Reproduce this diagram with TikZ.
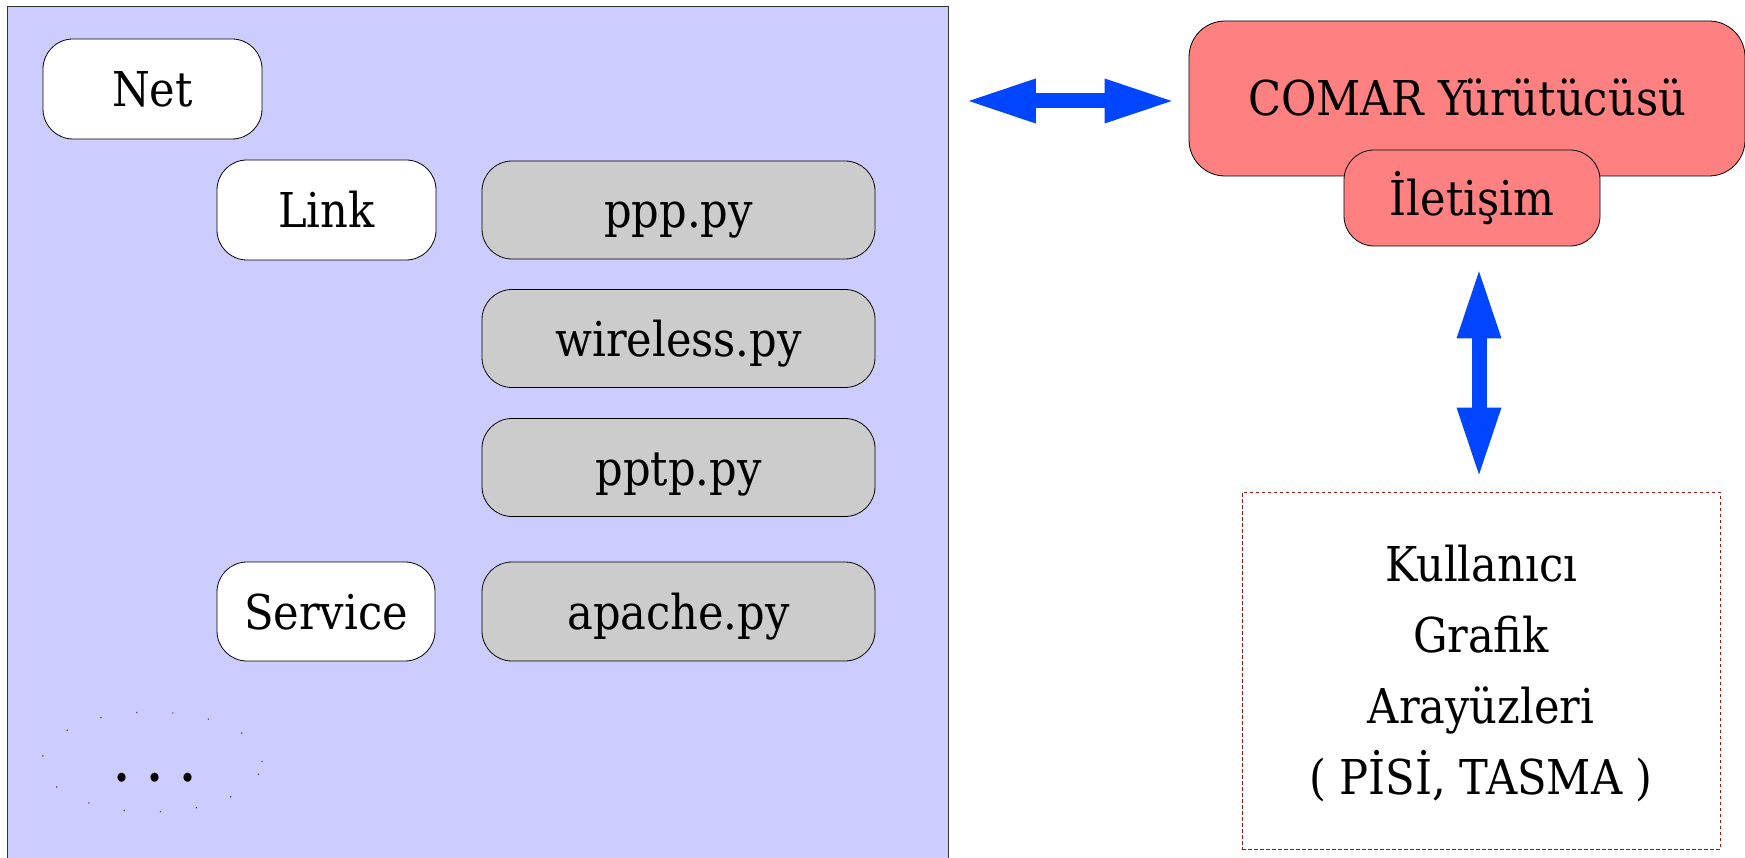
\documentclass[tikz,border=0pt]{standalone}
\usepackage{fontspec}
\setmainfont{DejaVu Serif Condensed}
\usetikzlibrary{arrows.meta,shapes.geometric}
\definecolor{boxblue}{RGB}{204,204,255}
\definecolor{boxgray}{RGB}{204,204,204}
\definecolor{boxred}{RGB}{255,128,128}
\definecolor{arrowblue}{RGB}{0,69,255}
\definecolor{dashred}{RGB}{160,20,20}
\begin{document}
\begin{tikzpicture}[x=1pt,y=-1pt,
  pill/.style={draw=black, line width=0.8pt, rounded corners=30pt, inner sep=0pt,
    font=\fontsize{48}{58}\selectfont, text height=35pt, text depth=0pt},
  whitepill/.style={pill, fill=white},
  graypill/.style={pill, fill=boxgray, minimum width=393pt, minimum height=98pt},
  redpill/.style={pill, fill=boxred},
  bigarrow/.style={arrowblue, line width=15pt,
    {Triangle[length=67pt,width=45pt,line width=0pt]}-{Triangle[length=67pt,width=45pt,line width=0pt]}},
  ]
\useasboundingbox (0,0) rectangle (1745,858);
\clip (0,0) rectangle (1745,858);
% left container
\node[draw=black!80, fill=boxblue, line width=0.8pt, minimum width=941pt,
  minimum height=880pt, anchor=north west, inner sep=0pt] (outer) at (7,6) {};
\node[whitepill, minimum width=219pt, minimum height=100pt] (net) at (152.5,89) {Net};
\node[whitepill, minimum width=219pt, minimum height=100pt] (link) at (326.5,210) {Link};
\node[graypill] (ppp) at (678.5,210) {ppp.py};
\node[graypill] (wireless) at (678.5,338.5) {wireless.py};
\node[graypill] (pptp) at (678.5,467.5) {pptp.py};
\node[whitepill, minimum width=218pt, minimum height=99pt] (service) at (326,611.5) {Service};
\node[graypill, minimum height=99pt] (apache) at (678.5,611.5) {apache.py};
\node[ellipse, draw=black!70, line width=1.2pt, dash pattern=on 1.2pt off 35pt,
  minimum width=220pt, minimum height=100pt, inner sep=0pt,
  font=\fontsize{48}{58}\selectfont\bfseries, text height=38.5pt, text depth=0pt] (more) at (152,762)
  {\hspace{6pt}.\hspace{17.5pt}.\hspace{17.5pt}.};
% right side
\node[redpill, rounded corners=36pt, minimum width=556pt, minimum height=155pt] (comar) at (1467,98.5) {COMAR Yürütücüsü};
\node[redpill, minimum width=256pt, minimum height=96pt] (ilet) at (1472,198) {İletişim};
\node[draw=dashred, line width=1pt, dash pattern=on 3.5pt off 2.5pt,
  minimum width=478pt, minimum height=357pt, inner sep=0pt] (gui) at (1481,670.5) {};
\node[align=center, inner sep=0pt, anchor=north, font=\fontsize{48}{71}\selectfont]
  (guitext) at ([yshift=-53.5pt]gui.north)
  {Kullanıcı\\Grafik\\Arayüzleri\\( PİSİ, TASMA )};
% arrows
\draw[bigarrow] ([xshift=20pt,yshift=-2.5pt]outer.east |- comar.west)
  -- ([xshift=-17pt,yshift=-2.5pt]comar.west);
\draw[bigarrow] ([xshift=7pt,yshift=-25pt]ilet.south) -- ([xshift=-2pt,yshift=17pt]gui.north);
\end{tikzpicture}
\end{document}
